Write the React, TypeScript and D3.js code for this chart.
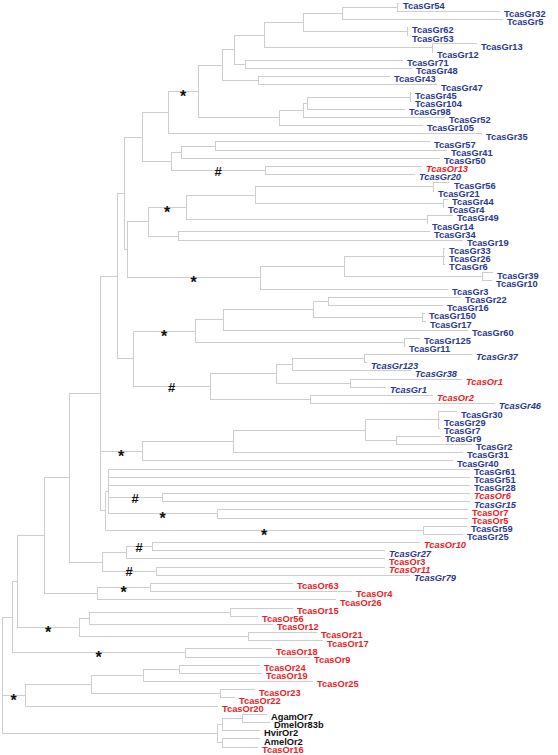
import React from "react";
import * as d3 from "d3";

type TNode = { name?: string; len: number; kids?: TNode[]; mark?: string };
const L = (name: string, len: number): TNode => ({ name, len });
const N = (len: number, kids: TNode[], mark?: string): TNode => ({ len, kids, mark });

// ---- tree data (branch lengths) ----
const grTopClade = N(26, [
  N(30, [
    N(24, [
      N(12, [
        N(30, [
          N(39, [
            N(39, [N(55, [L("TcasGr54", 2), L("TcasGr32", 103)]), L("TcasGr5", 161)]),
            N(104, [L("TcasGr62", 1), L("TcasGr53", 1)]),
          ]),
          N(168, [L("TcasGr13", 45), L("TcasGr12", 1)]),
        ]),
        N(11, [L("TcasGr71", 158), L("TcasGr48", 167)]),
      ]),
      N(36, [L("TcasGr43", 132), L("TcasGr47", 179)]),
    ]),
    N(81, [
      N(24, [
        N(4, [N(103, [L("TcasGr45", 1), L("TcasGr104", 1)]), L("TcasGr98", 98)]),
        L("TcasGr52", 142),
      ]),
      L("TcasGr105", 144),
    ]),
  ], "*"),
  L("TcasGr35", 314),
]);

const grClade57 = N(29, [
  N(10, [N(34, [L("TcasGr57", 215), L("TcasGr41", 232)]), L("TcasGr50", 259)]),
  N(94, [L("TcasOr13", 157), L("TcasGr20", 150)], "#"),
]);

const grClade56 = N(21, [
  N(38, [
    N(69, [
      N(178, [L("TcasGr56", 17), L("TcasGr21", 1)]),
      N(188, [L("TcasGr44", 5), L("TcasGr4", 1)]),
    ]),
    N(241, [L("TcasGr49", 26), L("TcasGr14", 1)]),
  ], "*"),
  N(30, [L("TcasGr34", 252), L("TcasGr19", 285)]),
]);

const grClade33 = N(133, [
  N(84, [
    N(99, [L("TcasGr33", 2), L("TcasGr26", 2), L("TCasGr6", 2)]),
    N(138, [L("TcasGr39", 11), L("TcasGr10", 10)]),
  ]),
  L("TcasGr3", 188),
], "*");

const grClade22 = N(62, [
  N(28, [
    N(90, [
      N(15, [L("TcasGr22", 133), L("TcasGr16", 115)]),
      N(109, [L("TcasGr150", 3), L("TcasGr17", 4)]),
    ]),
    L("TcasGr60", 245),
  ]),
  N(209, [L("TcasGr125", 16), L("TcasGr11", 1)]),
], "*");

const grClade37 = N(77, [
  N(66, [
    N(16, [N(72, [L("TcasGr37", 108), L("TcasGr123", 3)]), L("TcasGr38", 119)]),
    N(74, [L("TcasOr1", 112), L("TcasGr1", 36)]),
  ]),
  N(100, [L("TcasOr2", 123), L("TcasGr46", 185)]),
], "#");

const grClade30 = N(42, [
  N(91, [
    N(132, [
      N(73, [L("TcasGr30", 19), L("TcasGr29", 2), L("TcasGr7", 2)]),
      N(31, [L("TcasGr9", 45), L("TcasGr2", 76)]),
    ]),
    L("TcasGr31", 230),
  ]),
  L("TcasGr40", 311),
], "*");

const grClade61 = N(5, [
  N(3, [
    L("TcasGr61", 362), L("TcasGr51", 362), L("TcasGr28", 362),
    N(54, [L("TcasOr6", 308), L("TcasGr15", 308)], "#"),
    N(109, [L("TcasOr7", 251), L("TcasOr5", 251)], "*"),
  ]),
  N(318, [L("TcasGr59", 44), L("TcasGr25", 40)], "*"),
]);

const orClade10 = N(33, [
  N(24, [N(26, [L("TcasOr10", 268), L("TcasGr27", 233)], "#"), L("TcasOr3", 259)]),
  N(54, [L("TcasOr11", 229), L("TcasGr79", 254)], "#"),
]);

const orClade63 = N(53, [N(53, [L("TcasOr63", 143), L("TcasOr4", 202)], "*"), L("TcasOr26", 239)]);

const orClade15 = N(62, [
  N(10, [N(141, [L("TcasOr15", 63), L("TcasOr56", 28)]), L("TcasOr12", 184)]),
  N(169, [L("TcasOr21", 69), L("TcasOr17", 75)]),
], "*");

const orClade18 = N(173, [L("TcasOr18", 87), L("TcasOr9", 125)], "*");

const orClade24 = N(23, [
  N(66, [
    N(52, [N(36, [L("TcasOr24", 81), L("TcasOr19", 83)]), L("TcasOr25", 170)]),
    N(129, [L("TcasOr23", 35), L("TcasOr22", 15)]),
  ]),
  L("TcasOr20", 193),
], "*");

const outgroupClade = N(215, [
  N(5, [N(20, [L("AgamOr7", 25), L("DmelOr83b", 28)]), L("HvirOr2", 38)]),
  N(5, [L("AmelOr2", 38), L("TcasOr16", 36)]),
]);

const treeRoot = N(0, [
  N(10, [
    N(5, [
      N(27, [
        N(25, [
          N(31, [
            N(17, [
              N(7, [N(18, [grTopClade, grClade57]), N(3, [grClade56, grClade33])]),
              N(16, [grClade22, grClade37]),
            ]),
            grClade30,
            grClade61,
          ]),
          orClade10,
        ]),
        orClade63,
      ]),
      orClade15,
    ]),
    orClade18,
  ]),
  orClade24,
  outgroupClade,
]);

const italicLabels = [
  "TcasOr13", "TcasGr20", "TcasGr37", "TcasGr123", "TcasGr38", "TcasOr1", "TcasGr1",
  "TcasOr2", "TcasGr46", "TcasOr6", "TcasGr15", "TcasOr10", "TcasGr27", "TcasOr11", "TcasGr79",
];

const W = 558;
const H = 755;

function labelColor(name: string) {
  if (name.startsWith("TcasOr")) return "#ed1c24";
  if (name.toLowerCase().startsWith("tcasgr")) return "#2b3990";
  return "#111111";
}

export default function App() {
  const root = d3.hierarchy<TNode>(treeRoot, (d) => d.kids);
  const depth = new Map<any, number>();
  root.eachBefore((n: any) => {
    depth.set(n, (n.parent ? depth.get(n.parent)! : 0) + n.data.len);
  });
  const maxDepth = d3.max(root.leaves(), (n) => depth.get(n)!) as number;
  const x = d3.scaleLinear().domain([0, maxDepth]).range([2, 2 + maxDepth]);
  const leaves = root.leaves();
  const y = d3.scaleLinear().domain([0, leaves.length - 1]).range([3, 747]);
  const ypos = new Map<any, number>();
  leaves.forEach((l, i) => ypos.set(l, y(i)));
  root.eachAfter((n: any) => {
    if (n.children) {
      const c = n.children;
      ypos.set(n, (ypos.get(c[0])! + ypos.get(c[c.length - 1])!) / 2);
    }
  });

  const nodes = root.descendants();
  const lineColor = "#cdcdcd";

  return (
    <svg
      width={W}
      height={H}
      style={{ position: "absolute", left: 0, top: 0, background: "#fff" }}
      fontFamily="'Liberation Sans', Arial, sans-serif"
    >
      <g stroke={lineColor} strokeWidth={1} shapeRendering="crispEdges">
        {nodes.map((n: any, i) =>
          n.parent ? (
            <line
              key={"h" + i}
              x1={x(depth.get(n.parent)!)}
              x2={x(depth.get(n)!)}
              y1={ypos.get(n)!}
              y2={ypos.get(n)!}
            />
          ) : null
        )}
        {nodes.map((n: any, i) =>
          n.children ? (
            <line
              key={"v" + i}
              x1={x(depth.get(n)!)}
              x2={x(depth.get(n)!)}
              y1={ypos.get(n.children[0])!}
              y2={ypos.get(n.children[n.children.length - 1])!}
            />
          ) : null
        )}
      </g>
      <g fontSize={9.3} fontWeight="bold">
        {leaves.map((n: any, i) => (
          <text
            key={"t" + i}
            x={x(depth.get(n)!) + 4}
            y={ypos.get(n)! + 5.8}
            fill={labelColor(n.data.name)}
            fontStyle={italicLabels.includes(n.data.name) ? "italic" : "normal"}
          >
            {n.data.name}
          </text>
        ))}
      </g>
      <g fill="#111" fontWeight="bold" textAnchor="middle">
        {nodes
          .filter((n: any) => n.data.mark && n.parent)
          .map((n: any, i) => {
            const mx = (x(depth.get(n.parent)!) + x(depth.get(n)!)) / 2;
            const my = ypos.get(n)!;
            const star = n.data.mark === "*";
            return (
              <text
                key={"m" + i}
                x={mx}
                y={star ? my + 10.5 : my + 5}
                fontSize={star ? 16 : 13}
              >
                {n.data.mark}
              </text>
            );
          })}
      </g>
    </svg>
  );
}
